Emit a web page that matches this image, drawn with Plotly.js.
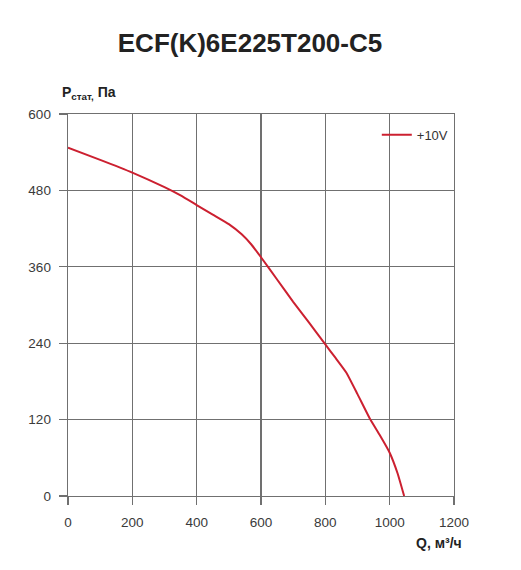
<!DOCTYPE html>
<html>
<head>
<meta charset="utf-8">
<script src="https://cdn.plot.ly/plotly-3.0.1.min.js"></script>
<style>
  html, body { margin: 0; padding: 0; background: #fff; }
  #chart { width: 521px; height: 570px; }
</style>
</head>
<body>
<div id="chart"></div>
<script>
// fan curve
const flow = [0, 100, 200, 300, 350, 400, 450, 500, 540, 570, 600, 650, 700, 750, 800, 830, 865, 900, 940, 970, 1000, 1025, 1045];
const pressure = [547, 528, 508, 485, 472, 457, 442, 427, 411, 395, 375, 340, 305, 272, 238, 218, 194, 160, 120, 95, 68, 35, 0];
const seriesName = '+10V';
const xTicks = [0, 200, 400, 600, 800, 1000, 1200];
const yTicks = [0, 120, 240, 360, 480, 600];

const font = 'Liberation Sans, Arial, sans-serif';

const curve = {
  type: 'scatter',
  mode: 'lines',
  name: seriesName,
  x: flow,
  y: pressure,
  line: { color: '#cc2030', width: 2, shape: 'spline', smoothing: 0.4 },
};

const axisCommon = {
  showgrid: true,
  gridcolor: '#707070',
  gridwidth: 1.4,
  zeroline: false,
  showline: true,
  mirror: true,
  linecolor: '#707070',
  linewidth: 1.4,
  ticks: 'outside',
  ticklen: 8,
  tickwidth: 1.4,
  tickcolor: '#707070',
  ticklabelstandoff: 5,
  tickfont: { family: font, size: 13.5, color: '#3a3a3a' },
  fixedrange: true,
};

const layout = {
  width: 521,
  height: 570,
  margin: { l: 68, r: 67, t: 114, b: 74 },
  paper_bgcolor: '#fff',
  plot_bgcolor: '#fff',
  font: { family: font, color: '#222' },
  title: {
    text: '<b>ECF(K)6E225T200-C5</b>',
    font: { family: font, size: 26, color: '#222' },
    x: 250 / 521,
    xanchor: 'center',
    y: 1 - 43 / 570,
    yanchor: 'middle',
  },
  xaxis: {
    ...axisCommon,
    range: [0, 1200],
    tickvals: xTicks,
    ticktext: xTicks.map(String),
  },
  yaxis: {
    ...axisCommon,
    range: [0, 600],
    tickvals: yTicks,
    ticktext: yTicks.map(String),
  },
  showlegend: true,
  legend: {
    x: 0.80,
    xanchor: 'left',
    y: 0.985,
    yanchor: 'top',
    bgcolor: 'rgba(0,0,0,0)',
    font: { family: font, size: 13, color: '#333' },
  },
  annotations: [
    {
      text: '<b>P<sub>стат,</sub> Па</b>',
      xref: 'paper', yref: 'paper',
      x: -0.022, y: 1 + 21 / 382,
      xanchor: 'left', yanchor: 'middle',
      showarrow: false,
      font: { family: font, size: 14, color: '#222' },
    },
    {
      text: '<b>Q, м³/ч</b>',
      xref: 'paper', yref: 'paper',
      x: 1.025, y: -47 / 382,
      xanchor: 'right', yanchor: 'middle',
      showarrow: false,
      font: { family: font, size: 14, color: '#222' },
    },
  ],
};

Plotly.newPlot('chart', [curve], layout, { displayModeBar: false, staticPlot: true });
</script>
</body>
</html>
